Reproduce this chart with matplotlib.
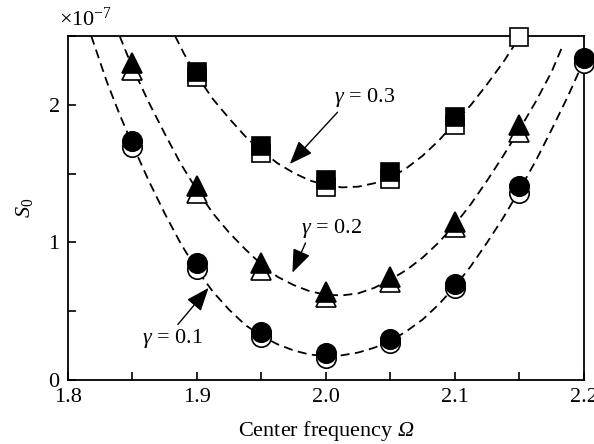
import matplotlib
matplotlib.use("Agg")
import matplotlib.pyplot as plt
import numpy as np

plt.rcParams["font.family"] = ["Liberation Serif", "DejaVu Serif"]
plt.rcParams["mathtext.fontset"] = "custom"
plt.rcParams["mathtext.rm"] = "Liberation Serif"
plt.rcParams["mathtext.it"] = "Liberation Serif:italic"
plt.rcParams["mathtext.bf"] = "Liberation Serif:bold"
# \mathcal used only for an italic capital Omega
plt.rcParams["mathtext.cal"] = "Liberation Serif:italic"

# marker data (units of 1e-7)
omega = [1.85, 1.90, 1.95, 2.00, 2.05, 2.10, 2.15, 2.20]
g1_filled = [1.74, 0.85, 0.35, 0.20, 0.30, 0.70, 1.41, 2.34]
g1_open = [1.69, 0.81, 0.31, 0.16, 0.27, 0.67, 1.36, 2.30]

omega_g2 = [1.85, 1.90, 1.95, 2.00, 2.05, 2.10, 2.15]
g2_filled = [2.30, 1.41, 0.85, 0.64, 0.75, 1.15, 1.85]
g2_open = [2.25, 1.36, 0.80, 0.60, 0.71, 1.11, 1.80]

omega_g3 = [1.90, 1.95, 2.00, 2.05, 2.10]
g3_filled = [2.24, 1.70, 1.45, 1.51, 1.91]
omega_g3_open = [1.90, 1.95, 2.00, 2.05, 2.10, 2.15]
g3_open = [2.20, 1.65, 1.40, 1.46, 1.85, 2.49]

# dashed curves
c1_x = [1.818, 1.83, 1.84, 1.85, 1.8625, 1.875, 1.8875, 1.90, 1.9125, 1.925, 1.9375, 1.95, 1.9625,
        1.975, 1.9875, 2.00, 2.0125, 2.025, 2.0375, 2.05, 2.0625, 2.075, 2.0875, 2.10, 2.1125,
        2.125, 2.1375, 2.15, 2.1625, 2.175, 2.1875, 2.20]
c1_y = [2.50, 2.17, 1.93, 1.71, 1.45, 1.21, 0.99, 0.80, 0.64, 0.51, 0.40, 0.32, 0.26,
        0.215, 0.185, 0.175, 0.18, 0.20, 0.235, 0.285, 0.355, 0.44, 0.55, 0.68, 0.83,
        1.00, 1.18, 1.38, 1.59, 1.82, 2.06, 2.32]

c2_x = [1.840, 1.85, 1.8625, 1.875, 1.8875, 1.90, 1.9125, 1.925, 1.9375, 1.95, 1.9625, 1.975,
        1.9875, 2.00, 2.0125, 2.025, 2.0375, 2.05, 2.0625, 2.075, 2.0875, 2.10, 2.1125, 2.125,
        2.1375, 2.15, 2.1625, 2.175, 2.184]
c2_y = [2.50, 2.27, 2.02, 1.79, 1.57, 1.38, 1.21, 1.07, 0.95, 0.84, 0.75, 0.69,
        0.645, 0.62, 0.615, 0.63, 0.67, 0.73, 0.80, 0.89, 1.00, 1.13, 1.28, 1.45,
        1.63, 1.82, 2.02, 2.24, 2.44]

c3_x = [1.883, 1.89, 1.90, 1.9125, 1.925, 1.9375, 1.95, 1.9625, 1.975, 1.9875, 2.00, 2.0125,
        2.025, 2.0375, 2.05, 2.0625, 2.075, 2.0875, 2.10, 2.1125, 2.125, 2.1375, 2.15]
c3_y = [2.50, 2.37, 2.21, 2.04, 1.90, 1.77, 1.665, 1.575, 1.505, 1.45, 1.415, 1.40,
        1.405, 1.43, 1.47, 1.54, 1.63, 1.74, 1.87, 2.00, 2.15, 2.31, 2.49]

fig = plt.figure(figsize=(5.94, 4.44), dpi=100)
ax = fig.add_axes([0.1145, 0.144, 0.8685, 0.775])

dash = dict(color="black", lw=1.3, ls=(0, (5, 3)), zorder=2)
ax.plot(c1_x, c1_y, **dash)
ax.plot(c2_x, c2_y, **dash)
ax.plot(c3_x, c3_y, **dash)

ms = 14
mk = dict(ls="none", mec="black", mew=1.2, clip_on=False)
ax.plot(omega, g1_open, "o", ms=ms, mfc="white", zorder=3, **mk)
ax.plot(omega, g1_filled, "o", ms=ms, mfc="black", zorder=4, **mk)
ax.plot(omega_g2, g2_open, "^", ms=ms + 1, mfc="white", zorder=3, **mk)
ax.plot(omega_g2, g2_filled, "^", ms=ms + 1, mfc="black", zorder=4, **mk)
ax.plot(omega_g3_open, g3_open, "s", ms=ms - 0.5, mfc="white", zorder=3, **mk)
ax.plot(omega_g3, g3_filled, "s", ms=ms - 0.5, mfc="black", zorder=4, **mk)

arrow = dict(arrowstyle="-|>,head_length=0.9,head_width=0.35", color="black", lw=1.0,
             shrinkA=0, shrinkB=0)
fs = 16
ax.annotate(r"$\gamma$ = 0.3", xy=(1.972, 1.57), xytext=(2.030, 2.05), fontsize=fs,
            ha="center", va="center", arrowprops=dict(arrow, relpos=(0.1, 0.0)))
ax.annotate(r"$\gamma$ = 0.2", xy=(1.974, 0.78), xytext=(2.004, 1.10), fontsize=fs,
            ha="center", va="center", arrowprops=dict(arrow, relpos=(0.1, 0.0)))
ax.annotate(r"$\gamma$ = 0.1", xy=(1.909, 0.67), xytext=(1.881, 0.30), fontsize=fs,
            ha="center", va="center", arrowprops=dict(arrow, relpos=(0.55, 1.0)))

ax.set_xlim(1.8, 2.2)
ax.set_ylim(0, 2.5)
xt = [1.8, 1.85, 1.9, 1.95, 2.0, 2.05, 2.1, 2.15, 2.2]
ax.set_xticks(xt)
ax.set_xticklabels(["1.8", "", "1.9", "", "2.0", "", "2.1", "", "2.2"], fontsize=fs)
yt = [0, 0.5, 1, 1.5, 2, 2.5]
ax.set_yticks(yt)
ax.set_yticklabels(["0", "", "1", "", "2", ""], fontsize=fs)
ax.tick_params(direction="in", length=6, width=1.2, pad=6)
for s in ax.spines.values():
    s.set_linewidth(1.3)

ax.set_xlabel(r"Center frequency $\mathcal{\Omega}$", fontsize=fs, labelpad=8)
ax.set_ylabel(r"$S_0$", fontsize=fs, labelpad=10)
fig.text(0.10, 0.930, r"$\times$10$^{-7}$", fontsize=fs, ha="left", va="bottom")

fig.savefig("out.png", dpi=100)
